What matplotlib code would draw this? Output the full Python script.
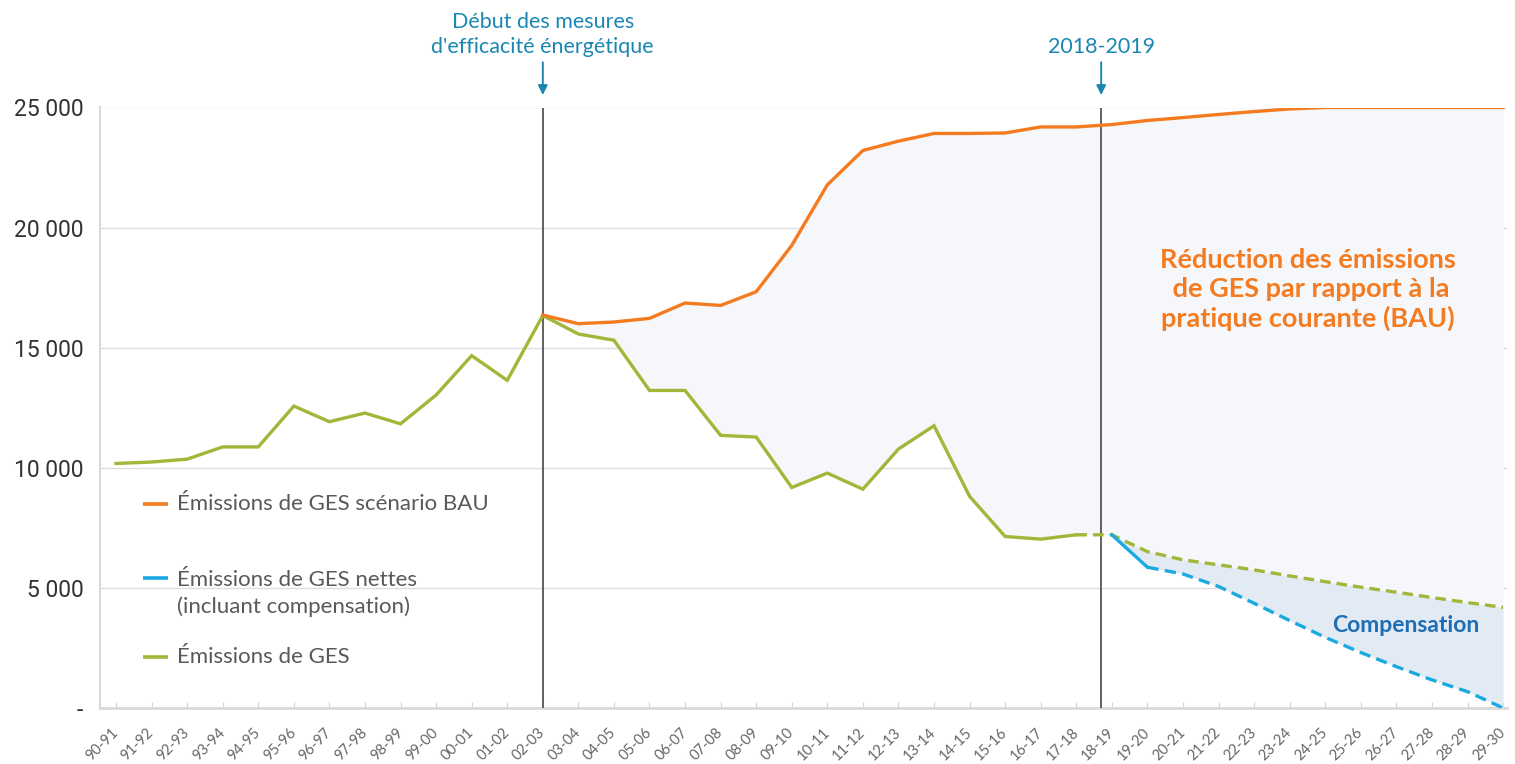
import numpy as np
import matplotlib
matplotlib.use("Agg")
import matplotlib.pyplot as plt

plt.rcParams['font.family'] = ['Lato', 'DejaVu Sans']

years = ["90-91", "91-92", "92-93", "93-94", "94-95", "95-96", "96-97", "97-98",
         "98-99", "99-00", "00-01", "01-02", "02-03", "03-04", "04-05", "05-06",
         "06-07", "07-08", "08-09", "09-10", "10-11", "11-12", "12-13", "13-14",
         "14-15", "15-16", "16-17", "17-18", "18-19", "19-20", "20-21", "21-22",
         "22-23", "23-24", "24-25", "25-26", "26-27", "27-28", "28-29", "29-30"]

# Émissions de GES (réel jusqu'en 17-18, projeté ensuite)
ges = [10180, 10240, 10360, 10870, 10870, 12570, 11920, 12280, 11830, 13030,
       14670, 13640, 16340, 15570, 15310, 13220, 13220, 11350, 11280, 9180,
       9780, 9110, 10780, 11750, 8810, 7140, 7030, 7210, 7210, 6510,
       6170, 5960, 5750, 5500, 5260, 5030, 4820, 4600, 4390, 4190]

# scénario BAU, à partir de 02-03
bau = [16360, 16000, 16070, 16220, 16860, 16760, 17330, 19260, 21780, 23210,
       23600, 23920, 23920, 23940, 24190, 24190, 24290, 24460, 24580, 24710,
       24830, 24940, 25000, 25000, 25000, 25000, 25000, 25000]

# GES nettes (incluant compensation), à partir de 18-19
nettes = [7210, 5860, 5580, 5060, 4360, 3640, 2940, 2310, 1720, 1170, 680, 0]

i_bau = 12        # début des mesures
i_last_real = 27  # 17-18
i_net = 28        # 18-19
x_2018 = 27.7

c_orange = "#f47b20"
c_green = "#a2b739"
c_blue = "#1aa9e0"
c_note = "#1a87b3"
c_txt = "#595959"

x = np.arange(len(years))
ges = np.array(ges, dtype=float)
bau = np.array(bau, dtype=float)
nettes = np.array(nettes, dtype=float)
xb = x[i_bau:]
xn = x[i_net:]

fig = plt.figure(figsize=(15.15, 7.64), dpi=100)
ax = fig.add_axes([100/1515, 56/764, 1407/1515, 600.5/764])

ax.fill_between(xb, ges[i_bau:], bau, color="#f5f7fa", lw=0, zorder=1)
ax.fill_between(xn, nettes, ges[i_net:], color="#e2eaf4", lw=0, zorder=1)

ax.plot(x[:i_last_real+1], ges[:i_last_real+1], color=c_green, lw=2.4, zorder=4,
        solid_joinstyle='miter')
ax.plot(x[i_last_real:], ges[i_last_real:], color=c_green, lw=2.4, zorder=4,
        dashes=(3.2, 1.8))
ax.plot(xn[:2], nettes[:2], color=c_blue, lw=2.4, zorder=5)
ax.plot(xn[1:], nettes[1:], color=c_blue, lw=2.4, zorder=5, dashes=(3.4, 1.9))
ax.plot(xb, bau, color=c_orange, lw=2.4, zorder=6)

ax.axvline(i_bau, color="#555555", lw=1.3, zorder=3)
ax.axvline(x_2018, color="#555555", lw=1.3, zorder=3)

ax.set_xlim(-0.45, 39.11)
ax.set_ylim(0, 25000)
ax.set_yticks(np.arange(0, 25001, 5000))
ax.set_yticklabels(["-" if v == 0 else f"{v:,}".replace(",", " ")
                    for v in range(0, 25001, 5000)],
                   fontfamily="Roboto", fontsize=16.5, color="#333333")
ax.yaxis.grid(True, color="#dedede", lw=1)
ax.set_axisbelow(True)
ax.set_xticks(x)
ax.set_xticklabels(years, rotation=45, rotation_mode='anchor', ha='right',
                   va='center', fontsize=10.5, color="#666666")
ax.tick_params(axis='x', direction='in', length=4, color="#d0d0d0", pad=16)
ax.tick_params(axis='y', length=0, pad=12)
for s in ["top", "right"]:
    ax.spines[s].set_visible(False)
ax.spines["left"].set_color("#d9d9d9")
ax.spines["left"].set_linewidth(1.5)
ax.spines["bottom"].set_color("#d9d9d9")
ax.spines["bottom"].set_linewidth(2)

# annotations du haut
ax.text(i_bau, 27250, "Début des mesures\nd'efficacité énergétique", ha='center',
        va='baseline', fontsize=15.5, color=c_note, linespacing=1.32, clip_on=False)
ax.text(x_2018, 27280, "2018-2019", ha='center', va='baseline', fontsize=15.5,
        color=c_note, clip_on=False)
for xa in [i_bau, x_2018]:
    ax.annotate("", xy=(xa, 25520), xytext=(xa, 26880), annotation_clip=False,
                arrowprops=dict(arrowstyle='-|>', color=c_note, lw=1.4,
                                mutation_scale=14, shrinkA=0, shrinkB=0))

ax.text(33.5, 17430, "Réduction des émissions\n de GES par rapport à la\npratique courante (BAU)",
        ha='center', va='center', fontsize=19.5, fontweight='bold', color=c_orange,
        linespacing=1.22)
ax.text(36.25, 3430, "Compensation", ha='center', va='center', fontsize=16.5,
        fontweight='bold', color="#1f6db3")

# légende
leg = [(c_orange, 0.340, "Émissions de GES scénario BAU", 0.340),
       (c_blue, 0.217, "Émissions de GES nettes\n(incluant compensation)", 0.1905),
       (c_green, 0.0854, "Émissions de GES", 0.0854)]
for col, yl, lab, yt in leg:
    ax.plot([0.0306, 0.0483], [yl, yl], color=col, lw=2.6, transform=ax.transAxes,
            solid_capstyle='butt')
    ax.text(0.0547, yt, lab, transform=ax.transAxes, ha='left', va='center',
            fontsize=16, color=c_txt, linespacing=1.38)

fig.savefig("out.png", dpi=100)
